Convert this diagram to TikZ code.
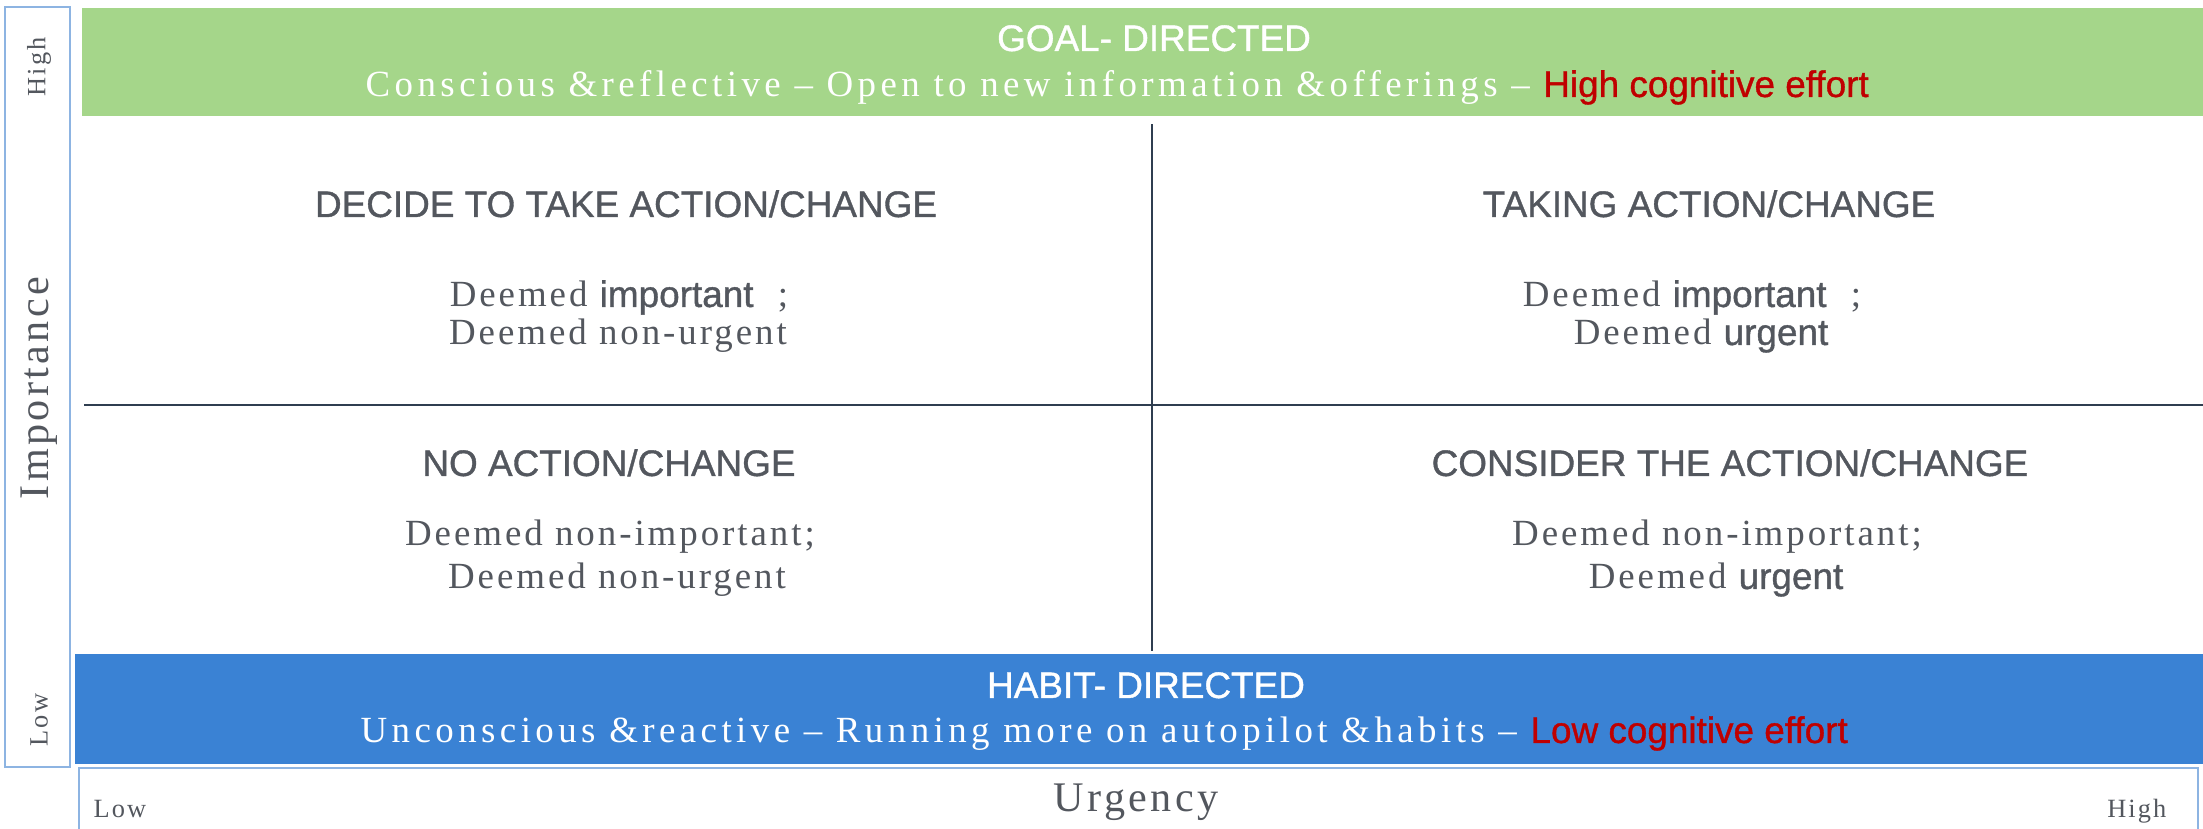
\documentclass[tikz,border=0pt]{standalone}
\usepackage{fontspec}
\setmainfont{Liberation Serif}[LetterSpace=8]
\setsansfont{Liberation Sans}[FakeBold=1]
\newfontfamily\bandserif{Liberation Serif}[LetterSpace=12]
\definecolor{goalgreen}{HTML}{A5D68A}
\definecolor{habitblue}{HTML}{3A82D4}
\definecolor{effortred}{HTML}{C00000}
\definecolor{inkgray}{HTML}{53575E}
\definecolor{axisblue}{HTML}{8DB4E2}
\definecolor{divider}{HTML}{2F3E50}
\tikzset{my head/.style={anchor=base, inner sep=0pt, text=inkgray, font=\sffamily\fontsize{10.5}{12}\selectfont},
my body/.style={anchor=base, inner sep=0pt, text=inkgray, font=\fontsize{10.5}{12}\selectfont},
my band title/.style={my head, text=white},
my band text/.style={my body, anchor=base west, text=white, font=\bandserif\fontsize{10.5}{12}\selectfont},
my axis label/.style={inner sep=0pt, text=inkgray, font=\fontsize{12}{14}\selectfont},
my axis end/.style={inner sep=0pt, text=inkgray, font=\fontsize{7.5}{9}\selectfont},
my axis box/.style={draw=axisblue, line width=0.5pt},
my divider/.style={draw=divider, line width=0.5pt},}
\newcommand{\sfword}[1]{{\sffamily #1}}
\newcommand{\effort}[1]{{\sffamily\color{effortred}#1}}

\begin{document}
\begin{tikzpicture}
\useasboundingbox (  0.000000,  0.000000) rectangle ( 22.030000,  8.290000);
\fill [goalgreen] (  0.820000,  7.130000) rectangle ( 22.030000,  8.210000);
\fill [habitblue] (  0.750000,  0.650000) rectangle ( 22.030000,  1.750000);
\draw [my axis box] (  0.050000,  0.620000) rectangle (  0.700000,  8.220000);
\draw [my axis box] (  0.790000,  0.000000) -- (  0.790000,  0.610000) -- ( 21.980000,  0.610000) -- ( 21.980000,  0.000000);
\draw [my divider] ( 11.520000,  1.780000) -- ( 11.520000,  7.050000);
\draw [my divider] (  0.840000,  4.240000) -- ( 22.030000,  4.240000);
\node [my axis end, rotate=90] (imphigh) at (  0.390000,  7.620000) {High};
\node [my axis label, rotate=90] (implabel) at (  0.390000,  4.410000) {Importance};
\node [my axis end, rotate=90] (implow) at (  0.390000,  1.090000) {Low};
\node [my axis end, anchor=base west] (urglow) at (  0.930000,  0.110000) {Low};
\node [my axis label, anchor=base] (urglabel) at ( 11.360000,  0.170000) {Urgency};
\node [my axis end, anchor=base east] (urghigh) at ( 21.670000,  0.110000) {High};
\node [my band title] (goal) at ( 11.540000,  7.780000) {GOAL- DIRECTED};
\node [my band text] (goaltext) at (  3.650000,  7.320000) {Conscious \&reflective – Open to new information \&offerings – \effort{High cognitive effort}};
\node [my band title] (habit) at ( 11.460000,  1.310000) {HABIT- DIRECTED};
\node [my band text] (habittext) at (  3.600000,  0.860000) {Unconscious \&reactive – Running more on autopilot \&habits – \effort{Low cognitive effort}};
\node [my head] (decide) at (  6.260000,  6.120000) {DECIDE TO TAKE ACTION/CHANGE};
\node [my body] (decidea) at (  6.190000,  5.220000) {Deemed \sfword{important}~~;};
\node [my body] (decideb) at (  6.180000,  4.840000) {Deemed non-urgent};
\node [my head] (taking) at ( 17.090000,  6.120000) {TAKING ACTION/CHANGE};
\node [my body] (takinga) at ( 16.920000,  5.220000) {Deemed \sfword{important}~~;};
\node [my body] (takingb) at ( 17.010000,  4.840000) {Deemed \sfword{urgent}};
\node [my head] (noaction) at (  6.090000,  3.530000) {NO ACTION/CHANGE};
\node [my body] (noactiona) at (  6.100000,  2.830000) {Deemed non-important;};
\node [my body] (noactionb) at (  6.170000,  2.400000) {Deemed non-urgent};
\node [my head] (consider) at ( 17.300000,  3.530000) {CONSIDER THE ACTION/CHANGE};
\node [my body] (considera) at ( 17.170000,  2.830000) {Deemed non-important;};
\node [my body] (considerb) at ( 17.160000,  2.400000) {Deemed \sfword{urgent}};
\end{tikzpicture}
\end{document}
